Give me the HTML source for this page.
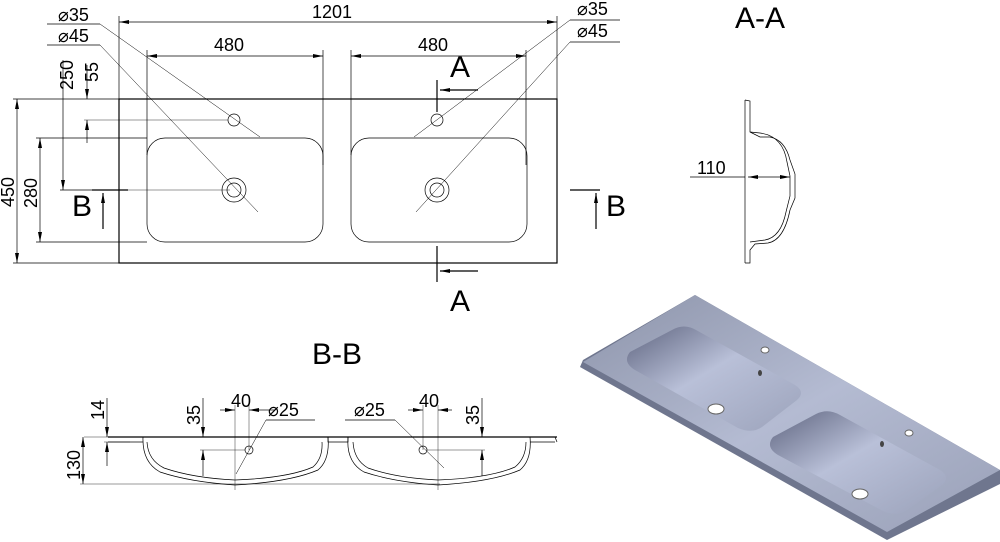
<!DOCTYPE html>
<html><head><meta charset="utf-8"><style>
html,body{margin:0;padding:0;background:#fff;width:1000px;height:542px;overflow:hidden}
svg text{font-family:"Liberation Sans","DejaVu Sans",sans-serif;fill:#000}
</style></head><body>
<svg width="1000" height="542" viewBox="0 0 1000 542" xmlns="http://www.w3.org/2000/svg">
<defs>
<marker id="a" viewBox="0 0 10 4" refX="10" refY="2" markerWidth="11" markerHeight="4" orient="auto-start-reverse" markerUnits="userSpaceOnUse"><path d="M0,0L10,2L0,4z" fill="#000"/></marker>
<linearGradient id="g1" x1="0" y1="0" x2="1" y2="1"><stop offset="0" stop-color="#8d94aa"/><stop offset="0.5" stop-color="#b4bbd2"/><stop offset="1" stop-color="#9aa1b8"/></linearGradient>
<linearGradient id="g2" x1="0" y1="0" x2="1" y2="1"><stop offset="0" stop-color="#5f6580"/><stop offset="0.45" stop-color="#b9c0d8"/><stop offset="1" stop-color="#9ca3bb"/></linearGradient>
</defs>
<g stroke="#000" stroke-width="0.7" fill="none">
<rect x="119" y="99" width="438" height="164" stroke-width="1.2"/>
<rect x="147" y="138" width="176" height="104" rx="18"/>
<rect x="351" y="138" width="176" height="104" rx="18"/>
<circle cx="234" cy="120" r="6"/><circle cx="234" cy="190" r="7"/><circle cx="234" cy="190" r="12"/>
<circle cx="437" cy="120" r="6"/><circle cx="437" cy="190" r="7"/><circle cx="437" cy="190" r="12"/>
<line x1="119" y1="16" x2="119" y2="99"/><line x1="557" y1="16" x2="557" y2="99"/>
<line x1="119" y1="22" x2="557" y2="22" marker-start="url(#a)" marker-end="url(#a)"/>
<line x1="147" y1="50" x2="147" y2="155"/><line x1="323" y1="50" x2="323" y2="165"/>
<line x1="147" y1="56" x2="323" y2="56" marker-start="url(#a)" marker-end="url(#a)"/>
<line x1="351" y1="50" x2="351" y2="155"/><line x1="526" y1="50" x2="526" y2="165"/>
<line x1="351" y1="56" x2="526" y2="56" marker-start="url(#a)" marker-end="url(#a)"/>
<line x1="13" y1="99" x2="119" y2="99"/><line x1="13" y1="263" x2="119" y2="263"/>
<line x1="17" y1="99" x2="17" y2="263" marker-start="url(#a)" marker-end="url(#a)"/>
<line x1="36" y1="138" x2="147" y2="138"/><line x1="36" y1="242" x2="147" y2="242"/>
<line x1="40" y1="138" x2="40" y2="242" marker-start="url(#a)" marker-end="url(#a)"/>
<line x1="63" y1="60" x2="63" y2="190" marker-end="url(#a)"/>
<line x1="60" y1="190" x2="128" y2="190"/>
<line x1="128" y1="190" x2="230" y2="190" stroke-width="0.4"/>
<line x1="87" y1="65" x2="87" y2="99" marker-end="url(#a)"/>
<line x1="87" y1="143" x2="87" y2="120" marker-end="url(#a)"/>
<line x1="84" y1="120" x2="228" y2="120" stroke-width="0.4"/>
<line x1="47" y1="24" x2="100" y2="24"/><line x1="100" y1="24" x2="260" y2="137" stroke-width="0.5"/>
<line x1="47" y1="45" x2="100" y2="45"/><line x1="100" y1="45" x2="258" y2="212" stroke-width="0.5"/>
<line x1="570" y1="20" x2="620" y2="20"/><line x1="570" y1="20" x2="414" y2="137" stroke-width="0.5"/>
<line x1="570" y1="42" x2="620" y2="42"/><line x1="570" y1="42" x2="416" y2="212" stroke-width="0.5"/>
<line x1="437" y1="80" x2="437" y2="112" stroke-width="1.2"/>
<line x1="478" y1="90" x2="440" y2="90" marker-end="url(#a)" stroke-width="1.2"/>
<line x1="437" y1="246" x2="437" y2="282" stroke-width="1.2"/>
<line x1="478" y1="271" x2="440" y2="271" marker-end="url(#a)" stroke-width="1.2"/>
<line x1="92" y1="190" x2="128" y2="190" stroke-width="1.2"/>
<line x1="103" y1="229" x2="103" y2="193" marker-end="url(#a)" stroke-width="1.2"/>
<line x1="570" y1="190" x2="600" y2="190" stroke-width="1.2"/>
<line x1="596" y1="229" x2="596" y2="193" marker-end="url(#a)" stroke-width="1.2"/>
<!-- A-A -->
<path d="M745,100 L745,263 M745,100 L750,101 L750,132 L760,137 L770,137 Q785,140 790,160 L795,174 L795,198 L790,210 Q784,240 768,243 L755,244 L750,250 L750,263 L745,263"/>
<path d="M750,132 L760,133 Q783,136 787,162 L790,176 L790,196 L786,212 Q781,237 765,240 L750,242"/>
<line x1="690" y1="177" x2="745" y2="177"/>
<line x1="768" y1="177" x2="748" y2="177" marker-end="url(#a)"/>
<line x1="768" y1="177" x2="790" y2="177" marker-end="url(#a)"/>
<!-- B-B -->
<line x1="108" y1="437" x2="557" y2="437" stroke-width="1.2"/>
<line x1="108" y1="442" x2="143" y2="442"/>
<path d="M143,437 Q142,462 160,472 Q190,482 235,485 Q290,482 318,470 Q330,460 328,437"/>
<path d="M147,442 Q148,460 164,468 Q193,478 235,480 Q288,478 313,467 Q323,458 322,442"/>
<path d="M328,437 L328,442 L348,442 L348,437"/>
<path d="M348,437 Q346,462 364,472 Q394,482 438,485 Q492,482 520,470 Q532,460 530,437"/>
<path d="M353,442 Q354,460 368,468 Q396,478 438,480 Q490,478 515,467 Q526,458 526,442"/>
<line x1="530" y1="442" x2="555" y2="442"/><line x1="555" y1="437" x2="557" y2="442"/>
<line x1="80" y1="484" x2="440" y2="484" stroke-width="0.4"/>
<line x1="84" y1="437" x2="108" y2="437" stroke-width="0.4"/>
<line x1="83" y1="437" x2="83" y2="484" marker-start="url(#a)" marker-end="url(#a)"/>
<line x1="107" y1="398" x2="107" y2="437" marker-end="url(#a)"/>
<line x1="107" y1="466" x2="107" y2="442" marker-end="url(#a)"/>
<line x1="104" y1="442" x2="130" y2="442" stroke-width="0.4"/>
<line x1="203" y1="398" x2="203" y2="437" marker-end="url(#a)"/>
<line x1="203" y1="476" x2="203" y2="450" marker-end="url(#a)"/>
<line x1="200" y1="450" x2="245" y2="450" stroke-width="0.4"/>
<circle cx="249" cy="450" r="4"/><circle cx="423" cy="450" r="4"/>
<line x1="235" y1="405" x2="235" y2="490" stroke-width="0.4"/>
<line x1="249" y1="405" x2="249" y2="450" stroke-width="0.4"/>
<line x1="220" y1="410" x2="235" y2="410" marker-end="url(#a)"/>
<line x1="264" y1="410" x2="249" y2="410" marker-end="url(#a)"/>
<line x1="264" y1="410" x2="275" y2="410"/>
<line x1="266" y1="420" x2="315" y2="420"/><line x1="266" y1="420" x2="236" y2="474" stroke-width="0.5"/>
<line x1="482" y1="398" x2="482" y2="437" marker-end="url(#a)"/>
<line x1="482" y1="476" x2="482" y2="450" marker-end="url(#a)"/>
<line x1="427" y1="450" x2="485" y2="450" stroke-width="0.4"/>
<line x1="423" y1="405" x2="423" y2="450" stroke-width="0.4"/>
<line x1="438" y1="405" x2="438" y2="490" stroke-width="0.4"/>
<line x1="408" y1="410" x2="423" y2="410" marker-end="url(#a)"/>
<line x1="452" y1="410" x2="438" y2="410" marker-end="url(#a)"/>
<line x1="345" y1="420" x2="395" y2="420"/><line x1="395" y1="420" x2="444" y2="468" stroke-width="0.5"/>
</g>
<g font-size="18">
<text x="312" y="18">1201</text>
<text x="214" y="51">480</text><text x="418" y="51">480</text>
<text x="58" y="21">⌀35</text><text x="58" y="42">⌀45</text>
<text x="577" y="15">⌀35</text><text x="577" y="37">⌀45</text>
<text x="697" y="174">110</text>
<text transform="translate(73,90) rotate(-90)">250</text>
<text transform="translate(98,82) rotate(-90)">55</text>
<text transform="translate(14,207) rotate(-90)">450</text>
<text transform="translate(37,208) rotate(-90)">280</text>
<text transform="translate(104,420) rotate(-90)">14</text>
<text transform="translate(80,480) rotate(-90)">130</text>
<text transform="translate(200,425) rotate(-90)">35</text>
<text transform="translate(479,425) rotate(-90)">35</text>
<text x="231" y="407">40</text><text x="419" y="407">40</text>
<text x="268" y="416">⌀25</text><text x="354" y="416">⌀25</text>
</g>
<g font-size="30">
<text x="450" y="77">A</text><text x="450" y="311">A</text>
<text x="72" y="216">B</text><text x="606" y="216">B</text>
<text x="735" y="28">A-A</text><text x="312" y="364">B-B</text>
</g>
<!-- 3D -->
<polygon points="695,295 1000,470 1000,484 887,540 580,367 583,360" fill="#6f768e"/>
<polygon points="695,295 1000,470 887,532 583,362" fill="url(#g1)"/>
<path d="M630,352 Q622,362 635,370 L738,428 Q752,434 762,427 L797,400 Q806,392 795,385 L696,330 Q684,323 672,330z" fill="url(#g2)"/>
<path d="M773,437 Q765,447 778,455 L883,511 Q897,517 907,510 L942,485 Q951,477 940,470 L840,415 Q828,408 816,414z" fill="url(#g2)"/>
<ellipse cx="716" cy="409" rx="8" ry="5" fill="#fff" stroke="#666" stroke-width="1"/><ellipse cx="860" cy="494" rx="8" ry="5" fill="#fff" stroke="#666" stroke-width="1"/>
<ellipse cx="765" cy="350" rx="4" ry="3" fill="#fff" stroke="#666"/><ellipse cx="909" cy="433" rx="4" ry="3" fill="#fff" stroke="#666"/>
<ellipse cx="760" cy="373" rx="2" ry="3" fill="#444"/><ellipse cx="882" cy="444" rx="2" ry="3" fill="#444"/>
</svg>
</body></html>
